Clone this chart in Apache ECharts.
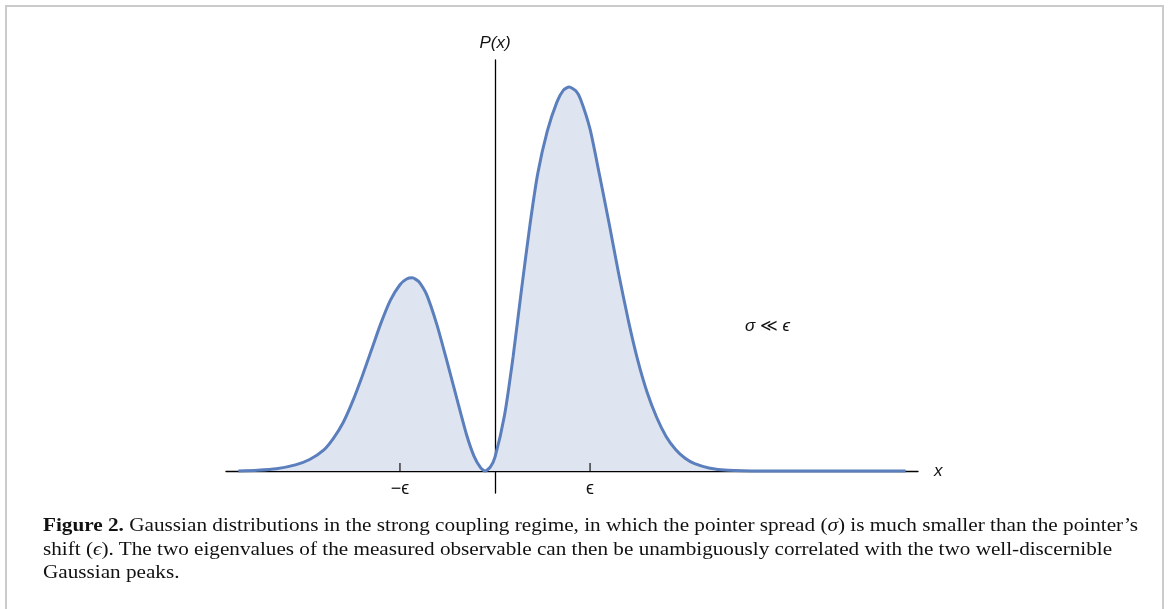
<!DOCTYPE html>
<html><head><meta charset="utf-8">
<script src="https://cdn.jsdelivr.net/npm/echarts@6/dist/echarts.min.js"></script>
<style>
html,body{margin:0;padding:0;background:#fff;width:1170px;height:609px;overflow:hidden;}
#frame{position:absolute;left:5px;top:5px;width:1159px;height:640px;border:2px solid #cbcbcb;box-sizing:border-box;}
#chart{position:absolute;left:0;top:0;width:1170px;height:609px;}
#cap{position:absolute;left:43px;top:514px;font-family:"Liberation Serif","DejaVu Serif",serif;font-size:18px;line-height:23.5px;color:#111;white-space:nowrap;}
#cap div{transform-origin:0 0;}
</style></head>
<body>
<div id="frame"></div>
<div id="chart"></div>
<div id="cap">
<div id="l1"><b>Figure 2.</b> Gaussian distributions in the strong coupling regime, in which the pointer spread (<i>σ</i>) is much smaller than the pointer’s</div>
<div id="l2">shift (<i>ϵ</i>). The two eigenvalues of the measured observable can then be unambiguously correlated with the two well-discernible</div>
<div id="l3">Gaussian peaks.</div>
</div>
<script>
// x in units of epsilon, P(x) relative to the right peak height
const xValues = [-2.70,-2.50,-2.30,-2.10,-1.95,-1.80,-1.70,-1.60,-1.50,-1.40,-1.30,-1.20,-1.10,-1.00,-0.93,-0.87,-0.80,-0.72,-0.61,-0.51,-0.40,-0.30,-0.22,-0.15,-0.105,-0.05,0.00,0.10,0.19,0.28,0.37,0.45,0.55,0.65,0.72,0.78,0.85,0.90,1.00,1.10,1.20,1.30,1.40,1.50,1.60,1.70,1.80,1.90,2.00,2.10,2.25,2.45,2.80,4.32];
const pValues = [0.000,0.002,0.006,0.016,0.030,0.055,0.085,0.125,0.180,0.245,0.315,0.385,0.445,0.485,0.500,0.503,0.493,0.460,0.380,0.290,0.187,0.095,0.038,0.008,0.000,0.010,0.036,0.145,0.297,0.475,0.645,0.775,0.885,0.960,0.992,1.000,0.990,0.968,0.890,0.770,0.645,0.515,0.395,0.290,0.205,0.140,0.090,0.056,0.033,0.019,0.008,0.002,0.000,0.000];
const tickValues = [-1, 1];
const tickLabels = {"-1": "\u2212\u03f5", "1": "\u03f5"};

const chart = echarts.init(document.getElementById('chart'), null, {renderer:'canvas'});
const data = xValues.map((x,i)=>[x,pValues[i]]);
const sansFont = '"Liberation Sans","DejaVu Sans",sans-serif';
chart.setOption({
  animation:false,
  grid:{left:226,top:60,width:692,height:433,containLabel:false},
  xAxis:{type:'value',min:-2.83,max:4.45,offset:-22,
    name:'x',nameLocation:'end',nameGap:16,
    nameTextStyle:{fontStyle:'italic',fontSize:17,color:'#111',fontFamily:sansFont,verticalAlign:'middle'},
    axisLine:{onZero:false,lineStyle:{color:'#000',width:1.3}},
    axisTick:{show:false},
    axisLabel:{show:true,customValues:tickValues,margin:9,fontSize:18,color:'#111',fontFamily:sansFont,
      formatter:(v)=>tickLabels[String(Math.round(v))]||''},
    splitLine:{show:false}},
  yAxis:{type:'value',min:-0.0573,max:1.0703,
    name:'P(x)',nameLocation:'end',nameGap:8,
    nameTextStyle:{fontStyle:'italic',fontSize:17,color:'#111',fontFamily:sansFont,align:'center'},
    axisLine:{show:true,onZero:true,lineStyle:{color:'#000',width:1.3}},
    axisTick:{show:false},axisLabel:{show:false},splitLine:{show:false}},
  graphic:[{type:'text',left:745,top:318,style:{text:'\u03c3 \u226a \u03f5',fontSize:17,fontStyle:'italic',fill:'#111',fontFamily:sansFont}}],
  series:[
    {type:'line',data:data,smooth:0.2,showSymbol:false,z:2,
      lineStyle:{color:'#5b7fbd',width:3},
      areaStyle:{color:'#dfe5f0',opacity:1}},
    {type:'scatter',data:tickValues.map(v=>[v,0]),symbol:'rect',symbolSize:[1.4,8],symbolOffset:[0,-4],
      itemStyle:{color:'#000'},z:3,silent:true}
  ]
});
// fit caption lines to the reference widths
const targets={l1:1095,l2:1093};
for(const id in targets){const el=document.getElementById(id);const w=el.scrollWidth;el.style.transform='scaleX('+(targets[id]/w)+')';}
const l3=document.getElementById('l3');l3.style.transform=document.getElementById('l2').style.transform;
</script>
</body></html>
